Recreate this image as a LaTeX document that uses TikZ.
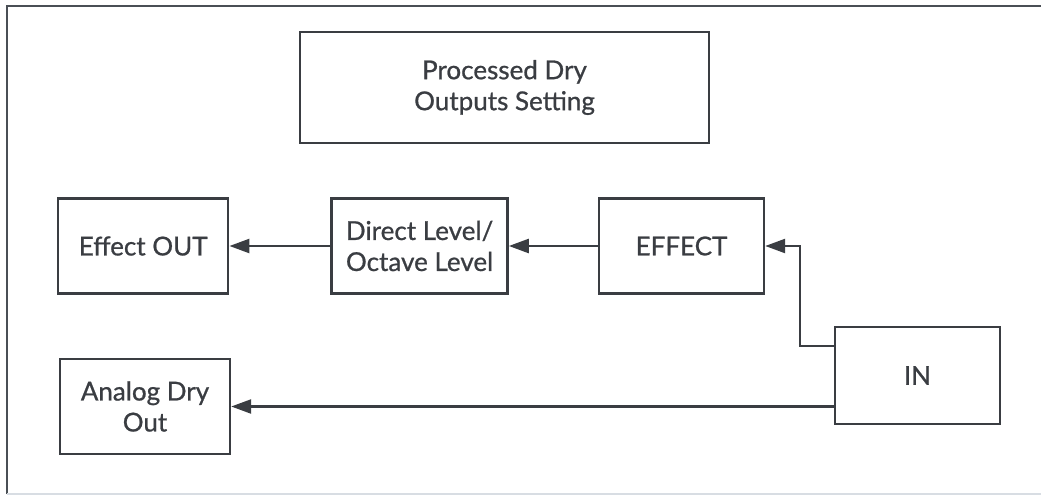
\documentclass[tikz,border=0pt]{standalone}
\usepackage{fontspec}
\setmainfont{Lato}
\newfontfamily\blockfont{Lato}[FakeBold=0.8]
\usetikzlibrary{arrows.meta, positioning}

\definecolor{linegray}{HTML}{3A3D42}
\definecolor{framegray}{HTML}{4A4F55}
\definecolor{edgegray}{HTML}{D8DDE3}

\begin{document}
\begin{tikzpicture}[
    x = 1pt,
    y = -1pt,
    node distance = 100pt,
    line width = 2.4pt,
    ]

    \tikzstyle{block}=[
    draw = linegray,
    fill = white,
    rectangle,
    align = center,
    text = linegray,
    font = \blockfont\fontsize{26}{31}\selectfont,
    minimum width = 170pt,
    minimum height = 95pt,
    inner sep = 0pt,
    ]
    \tikzstyle{flow}=[
    draw = linegray,
    -{Triangle[length=20pt, width=14pt]},
    ]

    \useasboundingbox (0,0) rectangle (1041,495);
    \draw[framegray, line width=2pt] (7,494) -- (7,6) -- (1041,6);
    \draw[edgegray, line width=2pt] (7,494) -- (1041,494);

    \node[block, minimum width=409pt, minimum height=111pt] (title) at (504.5,87.5) {Processed Dry\\Outputs Setting};
    \node[block, minimum width=165pt] (effect) at (681.5,246) {EFFECT};
    \node[block, minimum width=176pt] (level) [left=89pt of effect] {Direct Level/\\Octave Level};
    \node[block] (fxout) [left=101pt of level] {Effect OUT};
    \node[block, minimum width=165pt, minimum height=97pt] (in) at (917.5,375.5) {IN};
    \node[block] (analog) at (145,406.5) {Analog Dry\\Out};

    \path[flow] (level) -- (fxout);
    \path[flow] (effect) -- (level);
    \path[flow] ([yshift=29.5pt]in.west) -| ([xshift=35pt]effect.east) -- (effect.east);
    \path[flow] (in.west |- analog.east) -- (analog.east);
  \end{tikzpicture}
\end{document}
